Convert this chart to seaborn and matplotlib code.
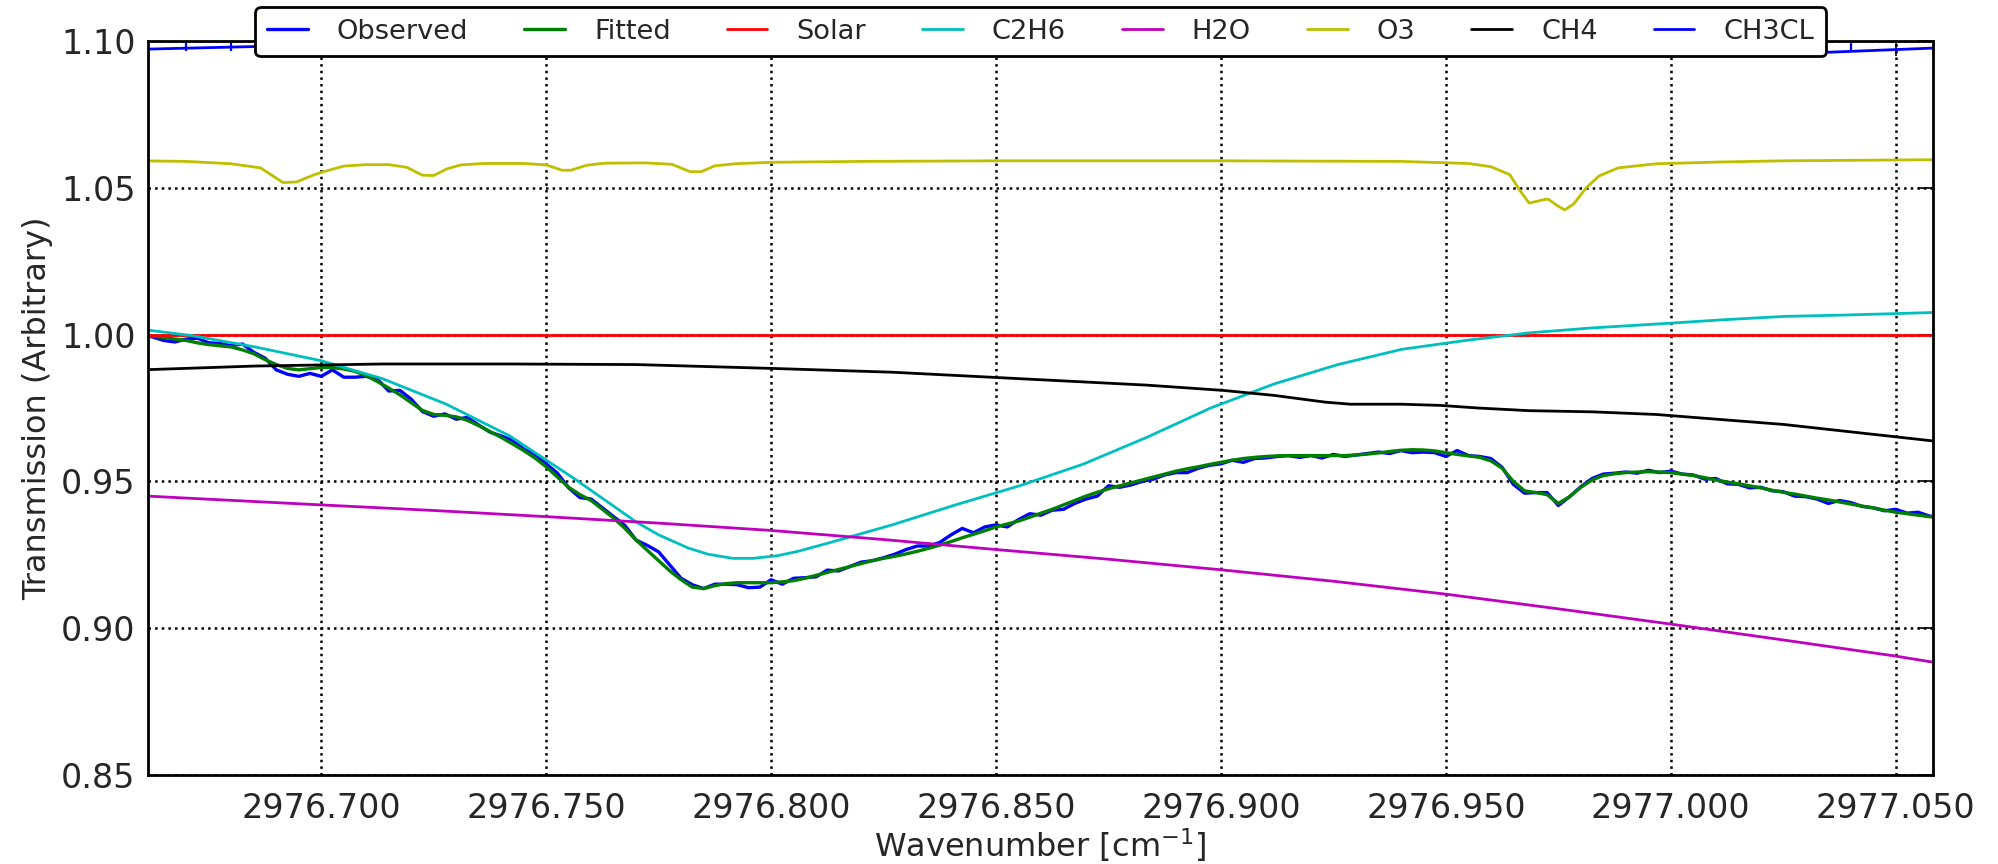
import numpy as np
import pandas as pd
import matplotlib
matplotlib.use("Agg")
import matplotlib.pyplot as plt
import seaborn as sns
from matplotlib.ticker import MultipleLocator, FormatStrFormatter

# ---------------- data ----------------
x_start = 2976.660
x_step = 0.0025
n_pts = 161
wn = np.round(x_start + x_step * np.arange(n_pts), 4)

observed = [
    1.0000, 0.9992, 0.9980, 0.9975, 0.9985, 0.9988, 0.9972, 0.9970, 0.9962, 0.9968,
    0.9940, 0.9920, 0.9880, 0.9865, 0.9858, 0.9868, 0.9858, 0.9880, 0.9855, 0.9855,
    0.9858, 0.9848, 0.9808, 0.9810, 0.9780, 0.9738, 0.9722, 0.9730, 0.9712, 0.9718,
    0.9692, 0.9668, 0.9655, 0.9640, 0.9610, 0.9592, 0.9560, 0.9528, 0.9478, 0.9445,
    0.9440, 0.9410, 0.9380, 0.9350, 0.9300, 0.9282, 0.9260, 0.9215, 0.9170, 0.9148,
    0.9135, 0.9150, 0.9150, 0.9148, 0.9138, 0.9140, 0.9165, 0.9150, 0.9170, 0.9172,
    0.9175, 0.9198, 0.9195, 0.9210, 0.9225, 0.9230, 0.9240, 0.9252, 0.9268, 0.9280,
    0.9280, 0.9292, 0.9318, 0.9340, 0.9325, 0.9345, 0.9352, 0.9345, 0.9370, 0.9390,
    0.9385, 0.9402, 0.9405, 0.9425, 0.9440, 0.9450, 0.9485, 0.9480, 0.9488, 0.9500,
    0.9508, 0.9522, 0.9530, 0.9530, 0.9545, 0.9555, 0.9560, 0.9572, 0.9565, 0.9578,
    0.9580, 0.9585, 0.9588, 0.9582, 0.9588, 0.9580, 0.9592, 0.9585, 0.9590, 0.9595,
    0.9600, 0.9595, 0.9605, 0.9598, 0.9600, 0.9598, 0.9585, 0.9605, 0.9588, 0.9585,
    0.9578, 0.9548, 0.9490, 0.9460, 0.9462, 0.9462, 0.9418, 0.9448, 0.9482, 0.9510,
    0.9525, 0.9528, 0.9532, 0.9528, 0.9538, 0.9530, 0.9535, 0.9525, 0.9522, 0.9508,
    0.9510, 0.9492, 0.9490, 0.9478, 0.9480, 0.9468, 0.9465, 0.9450, 0.9448, 0.9440,
    0.9425, 0.9435, 0.9428, 0.9415, 0.9410, 0.9400, 0.9405, 0.9392, 0.9395, 0.9382,
    0.9378,
]

fitted = [
    1.0000, 0.9995, 0.9990, 0.9985, 0.9980, 0.9972, 0.9966, 0.9962, 0.9958, 0.9948,
    0.9935, 0.9915, 0.9898, 0.9885, 0.9880, 0.9884, 0.9888, 0.9888, 0.9883, 0.9875,
    0.9860, 0.9840, 0.9818, 0.9795, 0.9768, 0.9742, 0.9728, 0.9725, 0.9720, 0.9708,
    0.9690, 0.9670, 0.9650, 0.9628, 0.9605, 0.9580, 0.9550, 0.9515, 0.9480, 0.9455,
    0.9435, 0.9405, 0.9375, 0.9340, 0.9300, 0.9265, 0.9230, 0.9195, 0.9165, 0.9140,
    0.9135, 0.9145, 0.9152, 0.9155, 0.9155, 0.9155, 0.9155, 0.9158, 0.9162, 0.9170,
    0.9180, 0.9190, 0.9200, 0.9210, 0.9220, 0.9230, 0.9238, 0.9245, 0.9253, 0.9262,
    0.9272, 0.9283, 0.9295, 0.9308, 0.9320, 0.9332, 0.9345, 0.9355, 0.9365, 0.9378,
    0.9392, 0.9405, 0.9420, 0.9435, 0.9450, 0.9463, 0.9475, 0.9485, 0.9495, 0.9505,
    0.9515, 0.9525, 0.9535, 0.9543, 0.9550, 0.9558, 0.9565, 0.9572, 0.9578, 0.9582,
    0.9585, 0.9587, 0.9588, 0.9588, 0.9588, 0.9588, 0.9588, 0.9588, 0.9590, 0.9593,
    0.9597, 0.9602, 0.9606, 0.9608, 0.9607, 0.9604, 0.9598, 0.9592, 0.9587, 0.9582,
    0.9570, 0.9545, 0.9500, 0.9468, 0.9462, 0.9455, 0.9425, 0.9448, 0.9480, 0.9505,
    0.9520, 0.9526, 0.9530, 0.9532, 0.9533, 0.9532, 0.9530, 0.9525, 0.9520, 0.9513,
    0.9505, 0.9498, 0.9492, 0.9485, 0.9478, 0.9470, 0.9463, 0.9457, 0.9450, 0.9443,
    0.9437, 0.9430, 0.9423, 0.9416, 0.9410, 0.9402, 0.9395, 0.9390, 0.9385, 0.9380,
    0.9375,
]

solar_x = [2976.660, 2977.060]
solar_y = [1.0000, 1.0000]

c2h6_x = [2976.6600, 2976.6711, 2976.6853, 2976.7000, 2976.7136, 2976.7278, 2976.7419,
          2976.7561, 2976.7702, 2976.7750, 2976.7816, 2976.7860, 2976.7915, 2976.7960,
          2976.8014, 2976.8060, 2976.8127, 2976.8269,
          2976.8410, 2976.8552, 2976.8694, 2976.8835, 2976.8977, 2976.9118, 2976.9260,
          2976.9402, 2976.9543, 2976.9685, 2976.9826, 2976.9968, 2977.0110, 2977.0251,
          2977.0393, 2977.0600]
c2h6_y = [1.0018, 0.9997, 0.9958, 0.9911, 0.9850, 0.9763, 0.9655,
          0.9511, 0.9360, 0.9318, 0.9273, 0.9252, 0.9238, 0.9238,
          0.9247, 0.9262, 0.9290, 0.9352,
          0.9420, 0.9485, 0.9559, 0.9650, 0.9750, 0.9832, 0.9898,
          0.9950, 0.9980, 1.0006, 1.0023, 1.0036, 1.0050, 1.0062,
          1.0067, 1.0076]

h2o_x = [2976.660, 2976.700, 2976.725, 2976.750, 2976.775, 2976.800, 2976.825, 2976.850,
         2976.875, 2976.900, 2976.925, 2976.950, 2976.975, 2977.000, 2977.025, 2977.050,
         2977.060]
h2o_y = [0.9451, 0.9420, 0.9401, 0.9380, 0.9358, 0.9333, 0.9302, 0.9268,
         0.9235, 0.9199, 0.9160, 0.9116, 0.9066, 0.9014, 0.8960, 0.8905,
         0.8880]

o3_x = [2976.6600, 2976.6700, 2976.6800, 2976.6865, 2976.6915, 2976.6945, 2976.6985,
        2976.7010, 2976.7050, 2976.7100, 2976.7150, 2976.7190, 2976.7225, 2976.7250,
        2976.7280, 2976.7310, 2976.7360, 2976.7450, 2976.7500, 2976.7535, 2976.7555,
        2976.7590, 2976.7630, 2976.7720, 2976.7780, 2976.7820, 2976.7845, 2976.7875,
        2976.7920, 2976.8000, 2976.8200, 2976.8500, 2976.9000, 2976.9400, 2976.9550,
        2976.9600, 2976.9642, 2976.9665, 2976.9685, 2976.9713, 2976.9727, 2976.9747,
        2976.9764, 2976.9784, 2976.9812, 2976.9840, 2976.9883, 2976.9968, 2977.0110,
        2977.0251, 2977.0600]
o3_y = [1.0592, 1.0590, 1.0582, 1.0568, 1.0518, 1.0520, 1.0545,
        1.0557, 1.0574, 1.0579, 1.0579, 1.0570, 1.0543, 1.0542,
        1.0565, 1.0578, 1.0583, 1.0583, 1.0578, 1.0560, 1.0560,
        1.0577, 1.0584, 1.0585, 1.0580, 1.0555, 1.0555, 1.0575,
        1.0582, 1.0587, 1.0590, 1.0592, 1.0592, 1.0590, 1.0583,
        1.0572, 1.0545, 1.0490, 1.0448, 1.0458, 1.0462, 1.0440,
        1.0425, 1.0445, 1.0500, 1.0540, 1.0568, 1.0582, 1.0588,
        1.0592, 1.0596]

ch4_x = [2976.6600, 2976.6853, 2976.7136, 2976.7419, 2976.7702, 2976.8000, 2976.8269,
         2976.8552, 2976.8835, 2976.9005, 2976.9118, 2976.9232, 2976.9288, 2976.9402,
         2976.9487, 2976.9572, 2976.9685, 2976.9826, 2976.9968, 2977.0251, 2977.0600]
ch4_y = [0.9880, 0.9893, 0.9900, 0.9900, 0.9898, 0.9885, 0.9872,
         0.9850, 0.9828, 0.9810, 0.9793, 0.9770, 0.9763, 0.9763,
         0.9759, 0.9750, 0.9741, 0.9737, 0.9728, 0.9694, 0.9635]

ch3cl_x = [2976.6600, 2976.6900, 2976.7500, 2976.8500, 2976.9500, 2977.0000, 2977.0353,
           2977.0600]
ch3cl_y = [1.0972, 1.0983, 1.0986, 1.0986, 1.0984, 1.0975, 1.0962, 1.0977]

series = [
    ("Observed", wn, observed, (0, 0, 1), 1.2),
    ("Fitted", wn, fitted, (0, 0.5, 0), 1.2),
    ("Solar", solar_x, solar_y, (1, 0, 0), 1.0),
    ("C2H6", c2h6_x, c2h6_y, (0, 0.75, 0.75), 1.0),
    ("H2O", h2o_x, h2o_y, (0.75, 0, 0.75), 1.0),
    ("O3", o3_x, o3_y, (0.75, 0.75, 0), 1.0),
    ("CH4", ch4_x, ch4_y, (0, 0, 0), 1.0),
    ("CH3CL", ch3cl_x, ch3cl_y, (0, 0, 1), 1.0),
]

# ---------------- style ----------------
sns.set_style("white")
plt.rcParams["font.family"] = ["DejaVu Sans"]
plt.rcParams["mathtext.fontset"] = "dejavusans"

fig = plt.figure(figsize=(9.99, 4.32), dpi=200)
ax = fig.add_axes([0.0741, 0.1030, 0.8934, 0.8495])

for name, xs, ys, col, lw in series:
    df = pd.DataFrame({"x": xs, "y": ys})
    sns.lineplot(data=df, x="x", y="y", color=col, linewidth=lw, label=name,
                 estimator=None, sort=False, ax=ax)

ax.set_xlim(2976.6615, 2977.0583)
ax.set_ylim(0.85, 1.10)
ax.xaxis.set_major_locator(MultipleLocator(0.05))
ax.xaxis.set_minor_locator(MultipleLocator(0.01))
ax.yaxis.set_major_locator(MultipleLocator(0.05))
ax.xaxis.set_major_formatter(FormatStrFormatter("%.3f"))
ax.yaxis.set_major_formatter(FormatStrFormatter("%.2f"))

ax.tick_params(which="both", direction="in", top=True, right=True, labelsize=12)
ax.tick_params(which="major", length=5.5, width=0.6, color="k")
ax.tick_params(axis="x", which="major", pad=6)
ax.tick_params(axis="y", which="major", pad=4.5)
ax.tick_params(which="minor", length=3.5, width=0.8, color="b")
ax.tick_params(axis="y", which="minor", left=False, right=False)

ax.grid(True, which="major", color="k", linestyle=":", linewidth=0.9)
for sp in ax.spines.values():
    sp.set_color("k")
    sp.set_linewidth(1.0)

ax.set_xlabel("Wavenumber [cm$^{-1}$]", fontsize=11.5, labelpad=0.6)
ax.set_ylabel("Transmission (Arbitrary)", fontsize=11.5, labelpad=3)

leg = ax.legend(loc="upper center", bbox_to_anchor=(0.5, 1.0463), borderaxespad=0,
                ncol=8, fontsize=9.8, handlelength=1.5, handletextpad=1.07,
                columnspacing=2.05, borderpad=0.43, fancybox=True, framealpha=1.0,
                edgecolor="k")
leg.get_frame().set_linewidth(1.0)

fig.savefig("out.png", dpi=200)
